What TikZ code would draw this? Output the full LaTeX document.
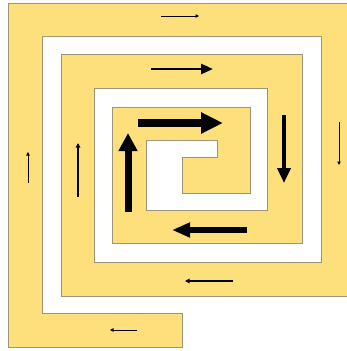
\documentclass[tikz,border=0pt]{standalone}
\usepackage{tikz}
\usetikzlibrary{arrows.meta}
\definecolor{spGold}{HTML}{FDE07C}
\definecolor{spEdge}{HTML}{9E9478}

\begin{document}
\begin{tikzpicture}[x=1pt,y=-1pt,
  band/.style={fill=spGold,draw=spEdge,line width=0.9pt},
  hairflow/.style={line width=0.8pt,-{Triangle[length=3.5pt,width=3.5pt]}},
  thinflow/.style={line width=1.3pt,-{Triangle[length=4.5pt,width=4.5pt]}},
  midflow/.style={line width=2.6pt,-{Triangle[length=12pt,width=10pt]}}]
  \useasboundingbox (0,0) rectangle (347,351);
  \clip (0,0) rectangle (347,351);
  % the gold spiral band
  \draw[band] (182,347) -- (8,347) -- (8,3) -- (350,3) -- (350,296) -- (61,296)
    -- (61,54) -- (302,54) -- (302,243) -- (112,243) -- (112,107) -- (250,107)
    -- (250,193) -- (182,193) -- (182,157) -- (217,157) -- (217,140) -- (146,140)
    -- (146,210) -- (267,210) -- (267,88) -- (94,88) -- (94,262) -- (321,262)
    -- (321,36) -- (42,36) -- (42,313) -- (182,313) -- cycle;
  % outer turn
  \draw[hairflow] (161,16) -- (199,16);
  \draw[hairflow] (339,122) -- (339,165);
  \draw[hairflow] (137,330) -- (110,330);
  \draw[hairflow] (28,183) -- (28,152);
  % middle turn
  \draw[thinflow] (233,281) -- (185,281);
  \draw[thinflow] (78,197) -- (78,143);
  \draw[midflow] (151,69) -- (213,69);
  % inner turn
  \draw[line width=4.5pt,-{Triangle[length=15pt,width=13pt]}] (284,115) -- (284,183);
  \draw[line width=6pt,-{Triangle[length=18pt,width=14pt]}] (247,230) -- (172,230);
  \draw[line width=7pt,-{Triangle[length=18pt,width=18pt]}] (128,212) -- (128,133);
  \draw[line width=8pt,-{Triangle[length=22pt,width=20pt]}] (138,123) -- (223,123);
\end{tikzpicture}
\end{document}
